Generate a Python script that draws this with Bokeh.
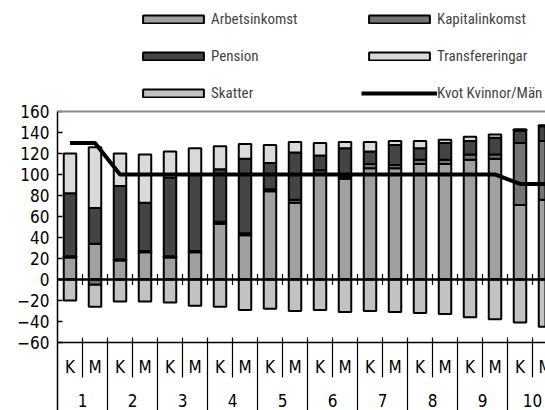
from bokeh.plotting import figure
from bokeh.models import (Range1d, FixedTicker, Span, Legend, LegendItem,
                          ColumnDataSource)
from bokeh.core.properties import value
from bokeh.embed import file_html
from bokeh.resources import INLINE

FONT = "'DejaVu Sans Condensed', 'Liberation Sans', sans-serif"
LEG_FONT = "'Noto Sans ExtraCondensed', 'Noto Sans Condensed', 'Roboto Condensed', 'DejaVu Sans Condensed', sans-serif"

# ---- data -------------------------------------------------------------
groups = ["1", "2", "3", "4", "5", "6", "7", "8", "9", "10"]
sexes = ["K", "M"] * 10
arbetsinkomst   = [21, 34, 18, 26, 21, 26, 53, 42, 84, 73, 101, 96, 106, 106, 110, 110, 114, 115, 71, 76]
kapitalinkomst  = [1, -5, 1, 1, 1, 1, 2, 2, 2, 3, 3, 2, 4, 3, 4, 4, 5, 4, 59, 56]
pension         = [60, 34, 70, 46, 75, 73, 50, 71, 25, 45, 14, 27, 12, 19, 11, 16, 13, 16, 12, 14]
transfereringar = [38, 58, 31, 46, 25, 25, 22, 14, 17, 10, 12, 6, 9, 4, 7, 3, 4, 3, 1, 1]
skatter         = [-20, -21, -21, -21, -22, -25, -26, -29, -28, -30, -29, -31, -30, -31, -32, -33, -36, -38, -41, -45]
kvot            = [130, 130, 100, 100, 100, 100, 100, 100, 100, 100, 100, 100, 100, 100, 100, 100, 100, 100, 91, 91]
y_ticks = [-60, -40, -20, 0, 20, 40, 60, 80, 100, 120, 140, 160]

series = [
    ("Arbetsinkomst", arbetsinkomst, "#a0a0a0"),
    ("Kapitalinkomst", kapitalinkomst, "#747474"),
    ("Pension", pension, "#444444"),
    ("Transfereringar", transfereringar, "#dadada"),
    ("Skatter", skatter, "#c2c2c2"),
]

n = len(sexes)
xs = [i + 0.5 for i in range(n)]

Y_TOP, Y_BOT = 265.7, -124.8

# ---- figure ------------------------------------------------------------
p = figure(width=545, height=410, output_backend="svg", toolbar_location=None,
           x_range=Range1d(0, 19.52), y_range=Range1d(Y_BOT, Y_TOP),
           x_axis_location=None)
p.min_border = 0
p.min_border_left = 57
p.outline_line_color = None
p.xgrid.visible = False
p.ygrid.visible = False

ax = p.yaxis[0]
ax.ticker = FixedTicker(ticks=y_ticks)
ax.bounds = (Y_BOT, 160)
ax.axis_line_color = "black"
ax.axis_line_width = 1.5
ax.major_tick_in = 5
ax.major_tick_out = 0
ax.major_tick_line_width = 1.5
ax.minor_tick_line_color = None
ax.major_label_standoff = 8
ax.major_label_text_font = FONT
ax.major_label_text_font_size = "17px"
ax.major_label_text_color = "black"

# reference lines
p.add_layout(Span(location=160, dimension="width", line_color="#8c8c8c", line_width=2))
p.add_layout(Span(location=-60, dimension="width", line_color="black", line_width=1.5))

# stacked bars (positives upward, negatives downward)
pos_base = [0.0] * n
neg_base = [0.0] * n
renderers = {}
for name, vals, color in series:
    bottoms, tops = [], []
    for i, v in enumerate(vals):
        if v >= 0:
            bottoms.append(pos_base[i]); tops.append(pos_base[i] + v); pos_base[i] += v
        else:
            bottoms.append(neg_base[i] + v); tops.append(neg_base[i]); neg_base[i] += v
    src = ColumnDataSource(dict(x=xs, bottom=bottoms, top=tops))
    renderers[name] = p.vbar(x="x", width=0.5, bottom="bottom", top="top", source=src,
                             fill_color=color, line_color="black", line_width=2)

# zero axis line with category-boundary ticks
p.add_layout(Span(location=0, dimension="width", line_color="black", line_width=2.5))
bounds_x = list(range(1, n))
p.segment(x0=bounds_x, x1=bounds_x, y0=[-5.2] * len(bounds_x), y1=[5.2] * len(bounds_x),
          line_color="black", line_width=1.2)

# ratio line
line_r = p.line(xs, kvot, line_color="black", line_width=4)

# category axis (K/M and groups) below -60
inner = [b for b in bounds_x if b % 2 == 1]
outer = [b for b in bounds_x if b % 2 == 0] + [n]
p.segment(x0=inner, x1=inner, y0=[-55.2] * len(inner), y1=[-93.3] * len(inner),
          line_color="black", line_width=1.2)
p.segment(x0=outer, x1=outer, y0=[-55.2] * len(outer), y1=[Y_BOT] * len(outer),
          line_color="black", line_width=1.2)
p.text(x=xs, y=[-82.9] * n, text=sexes, text_align="center", text_baseline="middle",
       text_font=value(FONT), text_font_size="17px", text_color="black")
gx = [2 * g + 1 for g in range(len(groups))]
p.text(x=gx, y=[-115.0] * len(groups), text=groups, text_align="center",
       text_baseline="middle", text_font=value(FONT), text_font_size="17px",
       text_color="black")

# legends (two columns)
def make_legend(items, loc):
    lg = Legend(items=items, location=loc, orientation="vertical",
                glyph_width=76, glyph_height=10, label_standoff=-16, spacing=17,
                padding=0, margin=0, border_line_color=None, background_fill_alpha=0,
                label_text_font=LEG_FONT, label_text_font_size="15px", label_height=20)
    p.add_layout(lg)

make_legend([LegendItem(label="Arbetsinkomst", renderers=[renderers["Arbetsinkomst"]]),
             LegendItem(label="Pension", renderers=[renderers["Pension"]]),
             LegendItem(label="Skatter", renderers=[renderers["Skatter"]])], (78, 307))
make_legend([LegendItem(label="Kapitalinkomst", renderers=[renderers["Kapitalinkomst"]]),
             LegendItem(label="Transfereringar", renderers=[renderers["Transfereringar"]]),
             LegendItem(label="Kvot Kvinnor/Män", renderers=[line_r])], (304, 307))

open("out.html", "w").write(file_html(p, INLINE))
